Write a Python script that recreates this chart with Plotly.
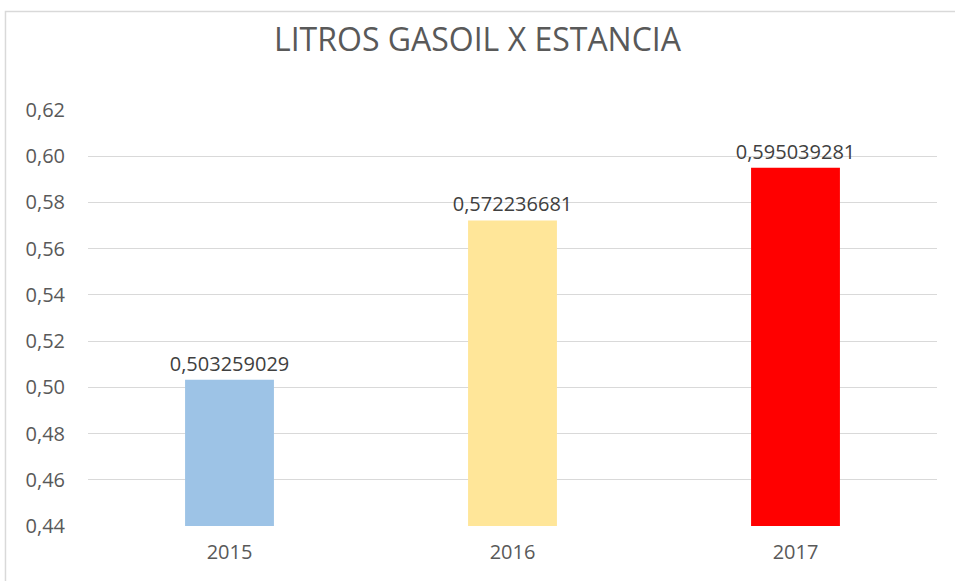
import plotly.graph_objects as go

years = ["2015", "2016", "2017"]
values = [0.503259029, 0.572236681, 0.595039281]
colors = ["#9DC3E6", "#FFE699", "#FF0000"]
title_text = "LITROS GASOIL X ESTANCIA"

labels = [f"{v:.9f}".replace(".", ",") for v in values]

fig = go.Figure()
fig.add_trace(go.Bar(
    x=years, y=values, marker=dict(color=colors, line=dict(width=0)),
    width=0.314,
    text=labels, textposition="outside", cliponaxis=False, constraintext="none",
    textfont=dict(size=20, color="#404040", family="Open Sans"),
))

fig.update_layout(
    width=955, height=581,
    margin=dict(l=88, r=18, t=110, b=55),
    paper_bgcolor="white", plot_bgcolor="white",
    separators=",.",
    showlegend=False,
    title=dict(text=title_text, x=0.5, xanchor="center", y=0.931, yanchor="middle",
               font=dict(size=32, color="#595959", family="Open Sans")),
    xaxis=dict(type="category", showgrid=False, showline=False, ticks="",
               ticklabelstandoff=12,
               tickfont=dict(size=20, color="#595959", family="Open Sans")),
    yaxis=dict(range=[0.44, 0.62], dtick=0.02, tick0=0.44, tickformat=".2f",
               showgrid=True, gridcolor="#D9D9D9", gridwidth=1.3,
               zeroline=False, showline=False, ticks="", ticklabelstandoff=22,
               tickfont=dict(size=20, color="#595959", family="Open Sans")),
    shapes=[dict(type="rect", xref="paper", yref="paper",
                 x0=-0.0972, x1=1.2, y0=-0.3, y1=1.237,
                 line=dict(color="#D9D9D9", width=1.5), fillcolor="rgba(0,0,0,0)",
                 layer="below")],
)

fig.write_html("out.html", config={"displayModeBar": False},
               post_script="document.body.style.margin='0';")
